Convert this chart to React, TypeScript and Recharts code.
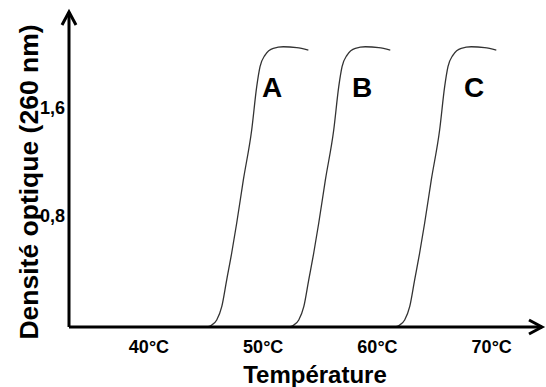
import React from "react";
import { LineChart, Line, XAxis, YAxis, ReferenceDot } from "recharts";

// Temperature (°C) / optical density readings for the three melting curves
const curveA = [
  { t: 45.08, od: 0.0 }, { t: 45.43, od: 0.011 }, { t: 45.93, od: 0.052 },
  { t: 46.37, od: 0.15 }, { t: 46.8, od: 0.346 }, { t: 47.24, od: 0.545 },
  { t: 47.68, od: 0.766 }, { t: 48.26, od: 1.083 }, { t: 48.99, od: 1.451 },
  { t: 49.43, od: 1.77 }, { t: 49.72, od: 1.917 }, { t: 50.16, od: 2.003 },
  { t: 50.88, od: 2.053 }, { t: 51.76, od: 2.064 }, { t: 52.93, od: 2.057 },
  { t: 53.95, od: 2.04 },
];
const curveB = [
  { t: 52.26, od: 0.0 }, { t: 52.61, od: 0.011 }, { t: 53.11, od: 0.052 },
  { t: 53.55, od: 0.15 }, { t: 53.98, od: 0.346 }, { t: 54.42, od: 0.545 },
  { t: 54.86, od: 0.766 }, { t: 55.44, od: 1.083 }, { t: 56.17, od: 1.451 },
  { t: 56.61, od: 1.77 }, { t: 56.9, od: 1.917 }, { t: 57.34, od: 2.003 },
  { t: 58.06, od: 2.053 }, { t: 58.94, od: 2.064 }, { t: 60.11, od: 2.057 },
  { t: 61.12, od: 2.04 },
];
const curveC = [
  { t: 61.53, od: 0.0 }, { t: 61.88, od: 0.011 }, { t: 62.38, od: 0.052 },
  { t: 62.82, od: 0.15 }, { t: 63.25, od: 0.346 }, { t: 63.69, od: 0.545 },
  { t: 64.13, od: 0.766 }, { t: 64.71, od: 1.083 }, { t: 65.44, od: 1.451 },
  { t: 65.88, od: 1.77 }, { t: 66.17, od: 1.917 }, { t: 66.61, od: 2.003 },
  { t: 67.33, od: 2.053 }, { t: 68.21, od: 2.064 }, { t: 69.38, od: 2.057 },
  { t: 70.4, od: 2.04 },
];

const xTicks = [40, 50, 60, 70];
const xTickLabels = ["40°C", "50°C", "60°C", "70°C"];
const yTicks = [0.8, 1.6];
const yTickLabels = ["0,8", "1,6"];

const curveNames = ["A", "B", "C"];
const curveNameT = [50.77, 58.65, 68.45];
const curveNameOD = [1.768, 1.768, 1.764];

const FONT = "'Liberation Sans', Arial, Helvetica, sans-serif";

const XTick = (props: any) => {
  const { x, y, payload } = props;
  return (
    <text
      x={x}
      y={y + 26}
      textAnchor="middle"
      fontFamily={FONT}
      fontWeight="bold"
      fontSize={18}
      fill="#000"
    >
      {xTickLabels[xTicks.indexOf(payload.value)]}
    </text>
  );
};

const YTick = (props: any) => {
  const { x, y, payload } = props;
  return (
    <text
      x={x - 4}
      y={y + 4}
      textAnchor="end"
      fontFamily={FONT}
      fontWeight="bold"
      fontSize={18}
      fill="#000"
    >
      {yTickLabels[yTicks.indexOf(payload.value)]}
    </text>
  );
};

const XTitle = (props: any) => {
  const vb = props.viewBox;
  return (
    <text
      x={vb.x + vb.width / 2 + 9.5}
      y={vb.y + 56}
      textAnchor="middle"
      fontFamily={FONT}
      fontWeight="bold"
      fontSize={24}
      fill="#000"
    >
      Température
    </text>
  );
};

const YTitle = (props: any) => {
  const vb = props.viewBox;
  const cx = 37.5;
  const cy = vb.y + vb.height / 2 + 12.5;
  return (
    <text
      transform={`translate(${cx}, ${cy}) rotate(-90)`}
      x={0}
      y={0}
      textAnchor="middle"
      fontFamily={FONT}
      fontWeight="bold"
      fontSize={26.5}
      fill="#000"
    >
      Densité optique (260 nm)
    </text>
  );
};

export default function App() {
  const series = [curveA, curveB, curveC];
  return (
    <div style={{ position: "absolute", left: 0, top: 0, width: 546, height: 387, background: "#fff" }}>
      <svg width={0} height={0} style={{ position: "absolute" }}>
        <defs>
          <marker
            id="axisArrow"
            viewBox="-16 -10 20 20"
            refX={0}
            refY={0}
            markerWidth={20}
            markerHeight={20}
            markerUnits="userSpaceOnUse"
            orient="auto-start-reverse"
            style={{ overflow: "visible" }}
          >
            <path d="M-13,-7 L0,0 L-13,7" fill="none" stroke="#000" strokeWidth={3} />
          </marker>
        </defs>
      </svg>
      <LineChart
        width={546}
        height={387}
        margin={{ top: 12, right: 4, bottom: 0, left: 0 }}
      >
        <XAxis
          type="number"
          dataKey="t"
          domain={[33, 74.4]}
          ticks={xTicks}
          allowDataOverflow
          height={60}
          tickSize={0}
          tickLine={false}
          tickMargin={0}
          axisLine={{ stroke: "#000", strokeWidth: 3, markerEnd: "url(#axisArrow)" }}
          tick={<XTick />}
          label={<XTitle />}
        />
        <YAxis
          type="number"
          dataKey="od"
          domain={[0, 2.32]}
          ticks={yTicks}
          allowDataOverflow
          width={69}
          tickSize={0}
          tickLine={false}
          tickMargin={0}
          axisLine={{ stroke: "#000", strokeWidth: 3, markerStart: "url(#axisArrow)" }}
          tick={<YTick />}
          label={<YTitle />}
        />
        {series.map((d, i) => (
          <Line
            key={curveNames[i]}
            data={d}
            dataKey="od"
            type="monotone"
            stroke="#333"
            strokeWidth={1.3}
            dot={false}
            activeDot={false}
            isAnimationActive={false}
          />
        ))}
        {curveNames.map((n, i) => (
          <ReferenceDot
            key={"lbl" + n}
            x={curveNameT[i]}
            y={curveNameOD[i]}
            r={1}
            fill="none"
            stroke="none"
            label={{
              value: n,
              position: "center",
              fontSize: 28,
              fontWeight: "bold",
              fontFamily: FONT,
              fill: "#000",
            }}
          />
        ))}
      </LineChart>
    </div>
  );
}
